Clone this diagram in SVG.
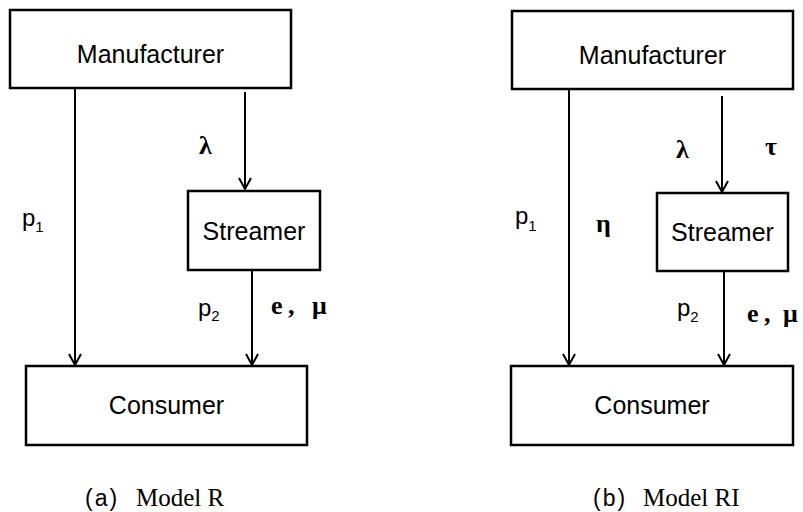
<svg xmlns="http://www.w3.org/2000/svg" width="803" height="512" viewBox="0 0 803 512">
<style>
.box{fill:#fff;stroke:#000;stroke-width:2.5}
.lbl{font-family:"Liberation Sans",Arial,sans-serif;font-size:25px;fill:#000;text-anchor:middle}
.p{font-family:"Liberation Sans",Arial,sans-serif;font-size:24px;fill:#000}
.sub{font-size:15px}
.g{font-family:"Liberation Serif","Times New Roman",serif;font-size:26px;fill:#000;font-weight:bold}
.gb{font-family:"Liberation Serif","Times New Roman",serif;font-size:26px;fill:#000;font-weight:bold}
.cap{font-family:"Liberation Serif","Times New Roman",serif;font-size:25px;fill:#000}
.capa{font-family:"Liberation Sans",Arial,sans-serif;font-size:23px;fill:#000;letter-spacing:2px}
.c{stroke:#000;stroke-width:2;fill:none;marker-end:url(#ah)}
</style>
<defs>
<marker id="ah" markerUnits="userSpaceOnUse" markerWidth="16" markerHeight="16" refX="13" refY="8" orient="auto" viewBox="0 0 16 16">
<polyline points="2,2 13,8 2,14" fill="none" stroke="#000" stroke-width="2"/>
</marker>
</defs>
<rect width="803" height="512" fill="#fff"/>
<g id="connectors">
<line class="c" x1="75" y1="88" x2="75" y2="365"/>
<line class="c" x1="245" y1="92" x2="245" y2="189"/>
<line class="c" x1="252" y1="270" x2="252" y2="365"/>
<line class="c" x1="569" y1="89" x2="569" y2="365"/>
<line class="c" x1="722" y1="96" x2="722" y2="192"/>
<line class="c" x1="724" y1="271" x2="724" y2="365"/>
</g>
<g id="manufacturer-a"><rect class="box" x="10" y="10" width="281" height="78"/><text class="lbl" x="150.5" y="63">Manufacturer</text></g>
<g id="streamer-a"><rect class="box" x="188" y="191" width="132" height="79"/><text class="lbl" x="254" y="240">Streamer</text></g>
<g id="consumer-a"><rect class="box" x="26" y="366" width="281" height="79"/><text class="lbl" x="166.5" y="414">Consumer</text></g>
<g id="manufacturer-b"><rect class="box" x="512" y="11" width="281" height="78"/><text class="lbl" x="652.5" y="64">Manufacturer</text></g>
<g id="streamer-b"><rect class="box" x="657" y="193" width="131" height="78"/><text class="lbl" x="722.5" y="241">Streamer</text></g>
<g id="consumer-b"><rect class="box" x="511" y="366" width="282" height="79"/><text class="lbl" x="652" y="414">Consumer</text></g>
<g id="labels">
<text class="g" x="199" y="154">λ</text>
<text class="p" x="22" y="226">p<tspan class="sub" dy="6">1</tspan></text>
<text class="p" x="198" y="316">p<tspan class="sub" dy="5">2</tspan></text>
<text class="gb" y="314"><tspan x="271">e</tspan><tspan x="288">,</tspan><tspan x="312">μ</tspan></text>
<text class="g" x="676" y="158">λ</text>
<text class="g" x="765" y="155">τ</text>
<text class="p" x="515" y="224">p<tspan class="sub" dy="7">1</tspan></text>
<text class="g" x="596" y="232">η</text>
<text class="p" x="677" y="316">p<tspan class="sub" dy="6">2</tspan></text>
<text class="gb" y="322"><tspan x="747">e</tspan><tspan x="764">,</tspan><tspan x="783">μ</tspan></text>
<text class="capa" x="85" y="506">(a)</text>
<text class="cap" x="136" y="506">Model R</text>
<text class="capa" x="593" y="506">(b)</text>
<text class="cap" x="643" y="506">Model RI</text>
</g>
</svg>
